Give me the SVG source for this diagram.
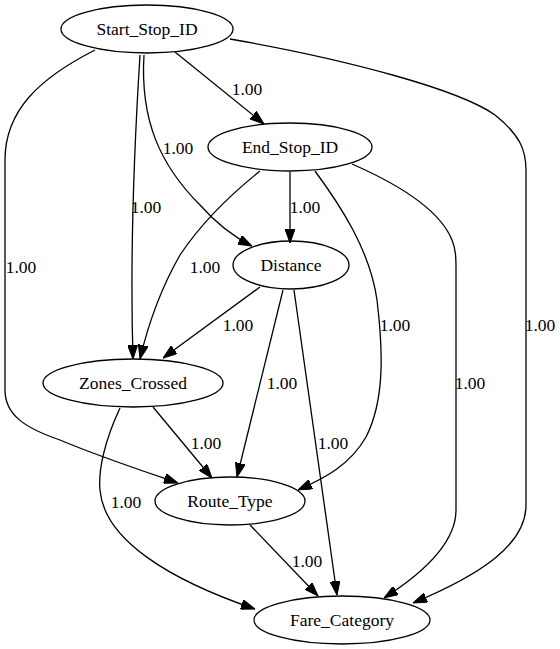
<svg xmlns="http://www.w3.org/2000/svg" width="560" height="649" viewBox="0 0 560 649">
<defs>
<marker id="arr" markerUnits="userSpaceOnUse" markerWidth="14" markerHeight="10" viewBox="0 0 14 10" refX="14" refY="5" orient="auto">
<path d="M0,0 L14,5 L0,10 z" fill="#000" stroke="#000" stroke-width="1"/>
</marker>
</defs>
<rect width="560" height="649" fill="#fff"/>
<g id="edges">
<g fill="none" stroke="#000" stroke-width="1.3" marker-end="url(#arr)">
<path d="M175,52 L264,124"/>
<path d="M144,55 C140,120 160,165 200,205 C215,222 232,236 252,246"/>
<path d="M140,55 C134,150 130,260 133,359"/>
<path d="M95,50 C40,78 5,110 5,160 L5,390 C5,415 25,428 60,440 C95,455 140,470 178,483"/>
<path d="M230,39 C350,60 460,90 495,115 C520,135 526,150 526,170 L526,505 C526,545 480,575 413,603"/>
<path d="M290,172 L290,243"/>
<path d="M260,171 C230,195 200,225 180,255 C160,290 148,325 140,359"/>
<path d="M315,171 C340,205 370,250 377,300 C383,350 385,400 366,437 C350,465 325,478 298,490"/>
<path d="M352,164 C400,185 440,210 452,240 C456,250 456,258 456,270 L456,510 C456,545 420,575 384,598"/>
<path d="M260,287 L163,358"/>
<path d="M283,290 L237,477"/>
<path d="M294,290 L337,595"/>
<path d="M153,407 L212,478"/>
<path d="M120,408 C105,440 98,470 100,490 C104,540 170,580 255,609"/>
<path d="M250,525 L318,596"/>
</g>
<g font-family="Liberation Serif" font-size="17.5" text-anchor="middle" fill="#000">
<text x="247" y="95">1.00</text>
<text x="178" y="154">1.00</text>
<text x="146" y="213">1.00</text>
<text x="21" y="273">1.00</text>
<text x="540" y="331">1.00</text>
<text x="305" y="213">1.00</text>
<text x="205" y="273">1.00</text>
<text x="395" y="331">1.00</text>
<text x="470" y="389">1.00</text>
<text x="238" y="331">1.00</text>
<text x="282" y="389">1.00</text>
<text x="333" y="449">1.00</text>
<text x="206" y="449">1.00</text>
<text x="126" y="508">1.00</text>
<text x="307" y="567">1.00</text>
</g>
</g>
<g id="Start_Stop_ID" font-family="Liberation Serif" font-size="17.5" text-anchor="middle"><ellipse cx="147" cy="29" rx="86" ry="24" fill="none" stroke="#000" stroke-width="1.3"/><text x="147" y="35">Start_Stop_ID</text></g>
<g id="End_Stop_ID" font-family="Liberation Serif" font-size="17.5" text-anchor="middle"><ellipse cx="290" cy="147" rx="82" ry="24" fill="none" stroke="#000" stroke-width="1.3"/><text x="290" y="153">End_Stop_ID</text></g>
<g id="Distance" font-family="Liberation Serif" font-size="17.5" text-anchor="middle"><ellipse cx="291" cy="265" rx="58" ry="24" fill="none" stroke="#000" stroke-width="1.3"/><text x="291" y="271">Distance</text></g>
<g id="Zones_Crossed" font-family="Liberation Serif" font-size="17.5" text-anchor="middle"><ellipse cx="133" cy="383" rx="90" ry="24" fill="none" stroke="#000" stroke-width="1.3"/><text x="133" y="389">Zones_Crossed</text></g>
<g id="Route_Type" font-family="Liberation Serif" font-size="17.5" text-anchor="middle"><ellipse cx="230" cy="501" rx="75" ry="24" fill="none" stroke="#000" stroke-width="1.3"/><text x="230" y="507">Route_Type</text></g>
<g id="Fare_Category" font-family="Liberation Serif" font-size="17.5" text-anchor="middle"><ellipse cx="342" cy="620" rx="88" ry="24" fill="none" stroke="#000" stroke-width="1.3"/><text x="342" y="626">Fare_Category</text></g>
</svg>
